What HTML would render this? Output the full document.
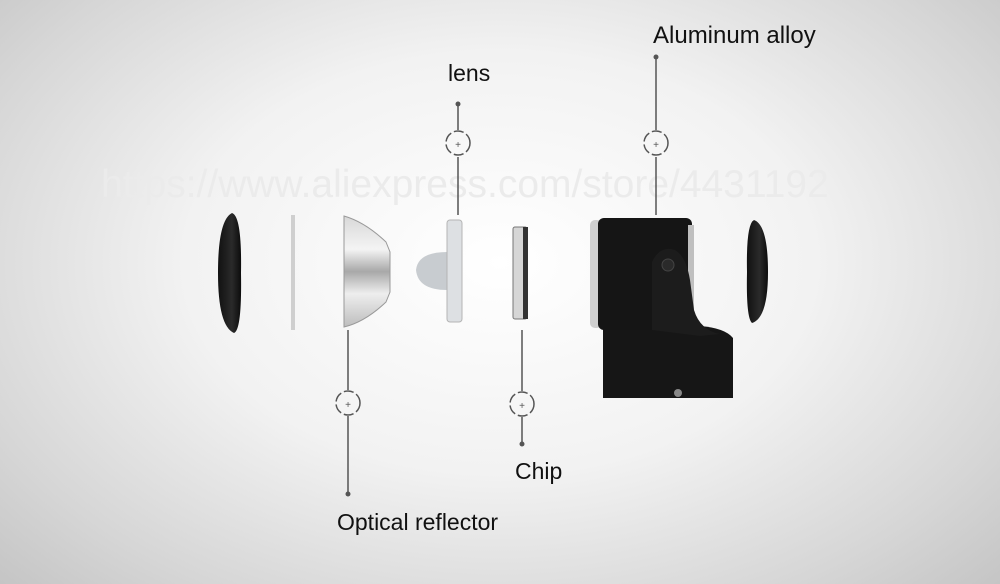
<!DOCTYPE html>
<html><head><meta charset="utf-8"><style>
html,body{margin:0;padding:0;width:1000px;height:584px;overflow:hidden}
body{background:radial-gradient(ellipse 70% 80% at 50% 45%,#ffffff 0%,#f2f2f2 45%,#d6d6d6 80%,#c4c4c4 100%)}
svg{position:absolute;left:0;top:0}
text{font-family:"Liberation Sans",sans-serif}
</style></head><body>
<svg width="1000" height="584" viewBox="0 0 1000 584">
<defs>
<linearGradient id="sil" x1="0" y1="0" x2="0" y2="1">
<stop offset="0" stop-color="#d8d8d8"/><stop offset=".3" stop-color="#f4f4f4"/><stop offset=".5" stop-color="#a8a8a8"/><stop offset=".7" stop-color="#eeeeee"/><stop offset="1" stop-color="#bdbdbd"/></linearGradient>
<linearGradient id="blk" x1="0" y1="0" x2="1" y2="0">
<stop offset="0" stop-color="#111"/><stop offset=".6" stop-color="#2a2a2a"/><stop offset="1" stop-color="#0c0c0c"/></linearGradient>
</defs>
<text x="465" y="197" font-size="39" fill="#ebebeb" text-anchor="middle">https://www.aliexpress.com/store/4431192</text>
<g stroke="#555" stroke-width="1.5" fill="none">
<line x1="458" y1="104" x2="458" y2="130"/><circle cx="458" cy="143" r="12" stroke-dasharray="10 3"/><line x1="458" y1="157" x2="458" y2="215"/>
<line x1="656" y1="57" x2="656" y2="130"/><circle cx="656" cy="143" r="12" stroke-dasharray="10 3"/><line x1="656" y1="157" x2="656" y2="215"/>
<line x1="348" y1="330" x2="348" y2="390"/><circle cx="348" cy="403" r="12" stroke-dasharray="10 3"/><line x1="348" y1="416" x2="348" y2="493"/>
<line x1="522" y1="330" x2="522" y2="391"/><circle cx="522" cy="404" r="12" stroke-dasharray="10 3"/><line x1="522" y1="417" x2="522" y2="443"/>
</g>
<g fill="#555">
<circle cx="458" cy="104" r="2.5"/><circle cx="656" cy="57" r="2.5"/><circle cx="348" cy="494" r="2.5"/><circle cx="522" cy="444" r="2.5"/>
<text x="458" y="148" font-size="10" text-anchor="middle">+</text><text x="656" y="148" font-size="10" text-anchor="middle">+</text>
<text x="348" y="408" font-size="10" text-anchor="middle">+</text><text x="522" y="409" font-size="10" text-anchor="middle">+</text>
</g>
<!-- left cap -->
<path d="M232 213 Q218 220 218 273 Q218 326 234 333 Q242 330 241 273 Q242 216 232 213 Z" fill="url(#blk)"/>
<rect x="291" y="215" width="4" height="115" fill="#cfcfcf"/>
<!-- reflector -->
<path d="M344 216 Q365 222 386 242 L390 252 L390 292 L386 302 Q365 322 344 327 Z" fill="url(#sil)" stroke="#999" stroke-width="1"/>
<!-- lens -->
<path d="M447 252 Q418 252 416 270 Q418 290 447 290 Z" fill="#c8ccd0"/>
<rect x="447" y="220" width="15" height="102" rx="3" fill="#dde0e3" stroke="#b5b5b5"/>
<!-- chip -->
<rect x="513" y="227" width="14" height="92" rx="2" fill="#d6d6d6" stroke="#777"/>
<rect x="523" y="227" width="5" height="92" fill="#333"/>
<!-- housing -->
<path d="M603 325 L603 398 L733 398 L733 338 Q725 328 700 326 Z" fill="#161616"/>
<rect x="590" y="220" width="12" height="108" rx="5" fill="#cfcfcf"/>
<rect x="598" y="218" width="94" height="112" rx="6" fill="#151515"/>
<rect x="688" y="225" width="6" height="100" fill="#bfbfbf"/>
<path d="M652 330 L652 262 Q660 245 675 250 Q686 256 690 280 L694 310 Q700 330 720 334 L700 336 Z" fill="#1c1c1c"/>
<circle cx="668" cy="265" r="6" fill="#2a2a2a" stroke="#444"/>
<circle cx="678" cy="393" r="4" fill="#888"/>
<!-- right cap -->
<path d="M754 220 Q768 225 768 272 Q768 318 752 323 Q746 318 747 272 Q746 224 754 220 Z" fill="url(#blk)"/>
<g fill="#111" font-size="23">
<text x="448" y="81">lens</text>
<text x="653" y="43" font-size="24">Aluminum alloy</text>
<text x="515" y="479">Chip</text>
<text x="337" y="530">Optical reflector</text>
</g>
</svg>
</body></html>
